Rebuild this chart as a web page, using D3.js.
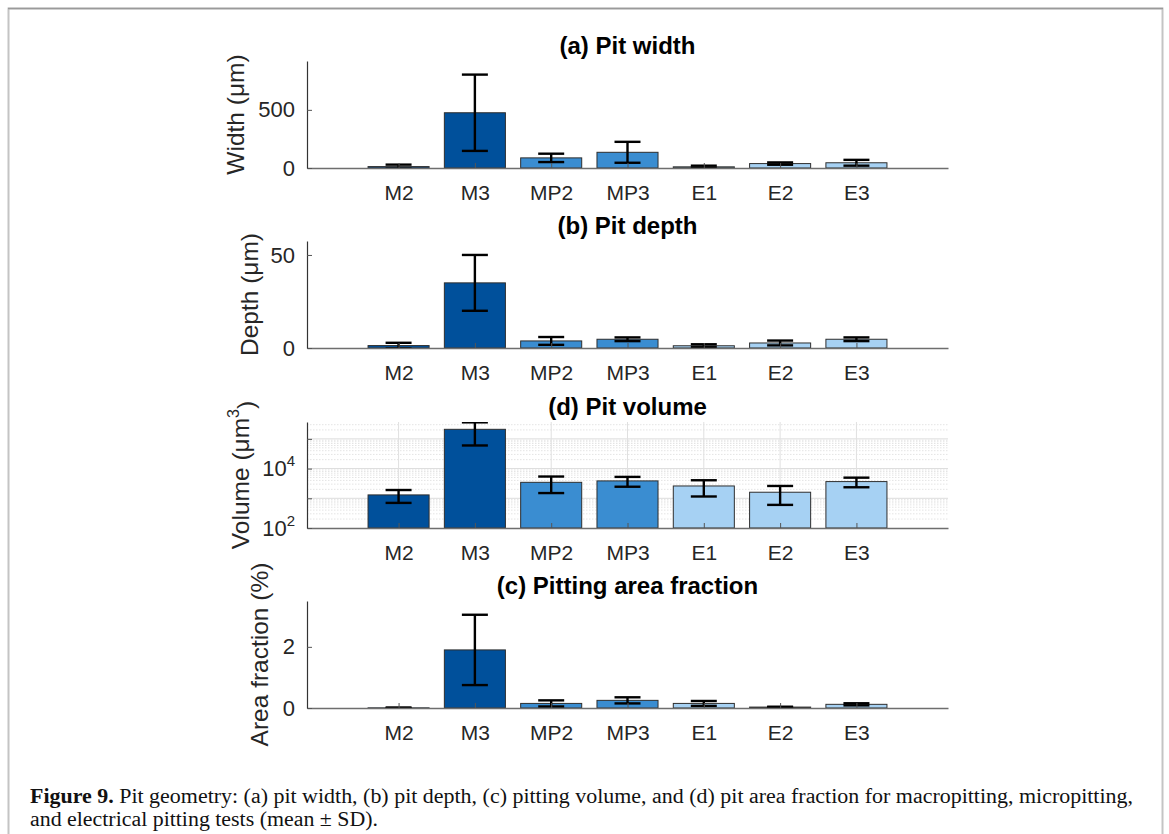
<!DOCTYPE html>
<html>
<head>
<meta charset="utf-8">
<script src="https://cdn.jsdelivr.net/npm/d3@7"></script>
<style>
  body { margin: 0; background: #fff; }
  svg text { font-family: "Liberation Sans", Arial, sans-serif; }
</style>
</head>
<body>
<svg id="fig" width="1169" height="834"></svg>
<script>
// categories and colours per test group
const categories = ['M2', 'M3', 'MP2', 'MP3', 'E1', 'E2', 'E3'];
const barColors = ['#00509b', '#00509b', '#3a8dd1', '#3a8dd1', '#a6d1f3', '#a6d1f3', '#a6d1f3'];

// (a) pit width, µm (mean, SD)
const widthMean = [12, 475, 87, 135, 10, 38, 45];
const widthSD = [17, 328, 36, 90, 10, 10, 25];

// (b) pit depth, µm
const depthMean = [1.3, 35, 3.8, 4.7, 1.2, 2.7, 4.7];
const depthSD = [1.5, 15, 2.1, 1.0, 0.8, 1.3, 1.0];

// (d) pit volume, µm^3
const volumeMean = [1300, 210000, 3450, 3850, 2600, 1600, 3650];
const volumeSD = [600, 150000, 1950, 1400, 1450, 1000, 1300];

// (c) pitting area fraction, %
const areaMean = [0.005, 1.9, 0.15, 0.25, 0.15, 0.03, 0.12];
const areaSD = [0.012, 1.15, 0.1, 0.1, 0.08, 0.012, 0.035];

const widthTicks = [0, 500];
const depthTicks = [0, 50];
const volumeTicks = [1e2, 1e4];
const areaTicks = [0, 2];

const svg = d3.select('#fig');

// page frame
svg.append('rect')
  .attr('x', 8.5).attr('y', 8.5)
  .attr('width', 1154).attr('height', 840)
  .attr('fill', 'none')
  .attr('stroke', '#c4c4c4')
  .attr('stroke-width', 2);
svg.append('line')
  .attr('x1', 8).attr('x2', 1163).attr('y1', 8.5).attr('y2', 8.5)
  .attr('stroke', '#9a9a9a').attr('stroke-width', 1.5);

const left = 307, right = 948;
const x = d3.scaleLinear().domain([-0.2, 8.2]).range([left, right]);
const step = x(1) - x(0);
const barW = step * 0.8;

const panels = [
  { title: '(a) Pit width', label: 'Width (μm)', mean: widthMean, sd: widthSD, ticks: widthTicks,
    top: 61, bottom: 168, domain: [0, 920], log: false, labelX: 244 },
  { title: '(b) Pit depth', label: 'Depth (μm)', mean: depthMean, sd: depthSD, ticks: depthTicks,
    top: 241, bottom: 348, domain: [0, 57.5], log: false, labelX: 258 },
  { title: '(d) Pit volume', label: 'Volume (μm', mean: volumeMean, sd: volumeSD, ticks: volumeTicks,
    top: 422, bottom: 528, domain: [100, 3.7e5], log: true, labelX: 249 },
  { title: '(c) Pitting area fraction', label: 'Area fraction (%)', mean: areaMean, sd: areaSD, ticks: areaTicks,
    top: 601, bottom: 708, domain: [0, 3.5], log: false, labelX: 268 }
];

panels.forEach((p, k) => {
  const y = (p.log ? d3.scaleLog() : d3.scaleLinear())
    .domain(p.domain).range([p.bottom, p.top]);
  const g = svg.append('g');

  const clipId = 'clip' + k;
  g.append('clipPath').attr('id', clipId)
    .append('rect')
    .attr('x', left).attr('y', p.top)
    .attr('width', right - left).attr('height', p.bottom - p.top);

  // grid for the log panel
  if (p.log) {
    const grid = g.append('g');
    const minor = [];
    for (let e = 2; e <= 5; e++) {
      for (let m = 1; m <= 9; m++) {
        const v = m * Math.pow(10, e);
        if (v > p.domain[0] && v <= p.domain[1]) minor.push({ v: v, major: m === 1 });
      }
    }
    grid.selectAll('line.h').data(minor).enter().append('line')
      .attr('x1', left).attr('x2', right)
      .attr('y1', d => y(d.v)).attr('y2', d => y(d.v))
      .attr('stroke', d => d.major ? '#dcdcdc' : '#e4e4e4')
      .attr('stroke-width', 1)
      .attr('stroke-dasharray', d => d.major ? null : '1.5,1.5');
    grid.selectAll('line.v').data(categories).enter().append('line')
      .attr('x1', (d, i) => x(i + 1)).attr('x2', (d, i) => x(i + 1))
      .attr('y1', p.top).attr('y2', p.bottom)
      .attr('stroke', '#e0e0e0').attr('stroke-width', 1);
  }

  const base = p.log ? p.domain[0] : 0;
  const plot = g.append('g').attr('clip-path', `url(#${clipId})`);

  // bars
  plot.selectAll('rect.bar').data(p.mean).enter().append('rect')
    .attr('x', (d, i) => x(i + 1) - barW / 2)
    .attr('width', barW)
    .attr('y', d => y(d))
    .attr('height', d => y(base) - y(d))
    .attr('fill', (d, i) => barColors[i])
    .attr('stroke', '#2e2e2e')
    .attr('stroke-width', 1);

  // error bars
  const lo = (d, i) => {
    const v = d - p.sd[i];
    return p.log ? y(Math.max(v, p.domain[0] * 0.5)) : y(v);
  };
  const hi = (d, i) => y(d + p.sd[i]);
  const capW = 13;
  const eb = plot.selectAll('g.err').data(p.mean).enter().append('g')
    .attr('stroke', '#000').attr('stroke-width', 2.4);
  eb.append('line')
    .attr('x1', (d, i) => x(i + 1)).attr('x2', (d, i) => x(i + 1))
    .attr('y1', lo).attr('y2', hi);
  eb.append('line')
    .attr('x1', (d, i) => x(i + 1) - capW).attr('x2', (d, i) => x(i + 1) + capW)
    .attr('y1', hi).attr('y2', hi);
  eb.append('line')
    .attr('x1', (d, i) => x(i + 1) - capW).attr('x2', (d, i) => x(i + 1) + capW)
    .attr('y1', lo).attr('y2', lo);

  // x axis: inward ticks, labels below
  const xAxis = d3.axisBottom(x)
    .tickValues(d3.range(1, categories.length + 1))
    .tickFormat(d => categories[d - 1])
    .tickSizeInner(-5).tickSizeOuter(0).tickPadding(17);
  const gX = g.append('g')
    .attr('transform', `translate(0,${p.bottom})`)
    .call(xAxis);
  gX.select('.domain').attr('stroke', '#6e6e6e').attr('stroke-width', 1.3);
  gX.selectAll('.tick line').attr('stroke', '#555');
  gX.selectAll('.tick text').attr('font-size', 21).attr('fill', '#262626');

  // y axis
  const yAxis = d3.axisLeft(y)
    .tickValues(p.log ? [1e2, 1e3, 1e4, 1e5] : p.ticks)
    .tickSizeInner(-5).tickSizeOuter(0).tickPadding(12)
    .tickFormat(d => p.ticks.includes(d) ? (p.log ? '' : d) : '');
  const gY = g.append('g')
    .attr('transform', `translate(${left},0)`)
    .call(yAxis);
  gY.select('.domain').attr('stroke', '#333').attr('stroke-width', 1.2);
  gY.selectAll('.tick line').attr('stroke', '#555');
  gY.selectAll('.tick text').attr('font-size', 22).attr('fill', '#262626');

  if (p.log) {
    // power-of-ten labels
    gY.selectAll('.tick').filter(d => p.ticks.includes(d)).each(function (d) {
      const t = d3.select(this).select('text').attr('dy', '0.32em');
      t.append('tspan').text('10');
      t.append('tspan').attr('font-size', 15).attr('dy', '-0.65em')
        .text(Math.round(Math.log10(d)));
    });
  }

  // title
  g.append('text')
    .attr('x', (left + right) / 2).attr('y', p.top - 7)
    .attr('text-anchor', 'middle')
    .attr('font-size', 24).attr('font-weight', 'bold')
    .attr('fill', '#000')
    .text(p.title);

  // y label
  const yl = g.append('text')
    .attr('transform', `translate(${p.labelX},${(p.top + p.bottom) / 2}) rotate(-90)`)
    .attr('text-anchor', 'middle')
    .attr('font-size', 24.5).attr('fill', '#262626')
    .text(p.label);
  if (p.log) {
    yl.append('tspan').attr('font-size', 16).attr('dy', '-0.6em').text('3');
    yl.append('tspan').attr('dy', '0.6em').text(')');
  }
});

// caption
const cap = svg.append('g')
  .attr('font-size', 20.5).attr('fill', '#111');
const l1 = cap.append('text').attr('x', 30).attr('y', 803)
  .attr('textLength', 1103).attr('lengthAdjust', 'spacingAndGlyphs')
  .style('font-family', '"Liberation Serif", "Times New Roman", serif');
l1.append('tspan').attr('font-weight', 'bold').text('Figure 9.');
l1.append('tspan').text(' Pit geometry: (a) pit width, (b) pit depth, (c) pitting volume, and (d) pit area fraction for macropitting, micropitting,');
cap.append('text').attr('x', 30).attr('y', 826)
  .attr('textLength', 348).attr('lengthAdjust', 'spacingAndGlyphs')
  .style('font-family', '"Liberation Serif", "Times New Roman", serif')
  .text('and electrical pitting tests (mean ± SD).');
</script>
</body>
</html>
